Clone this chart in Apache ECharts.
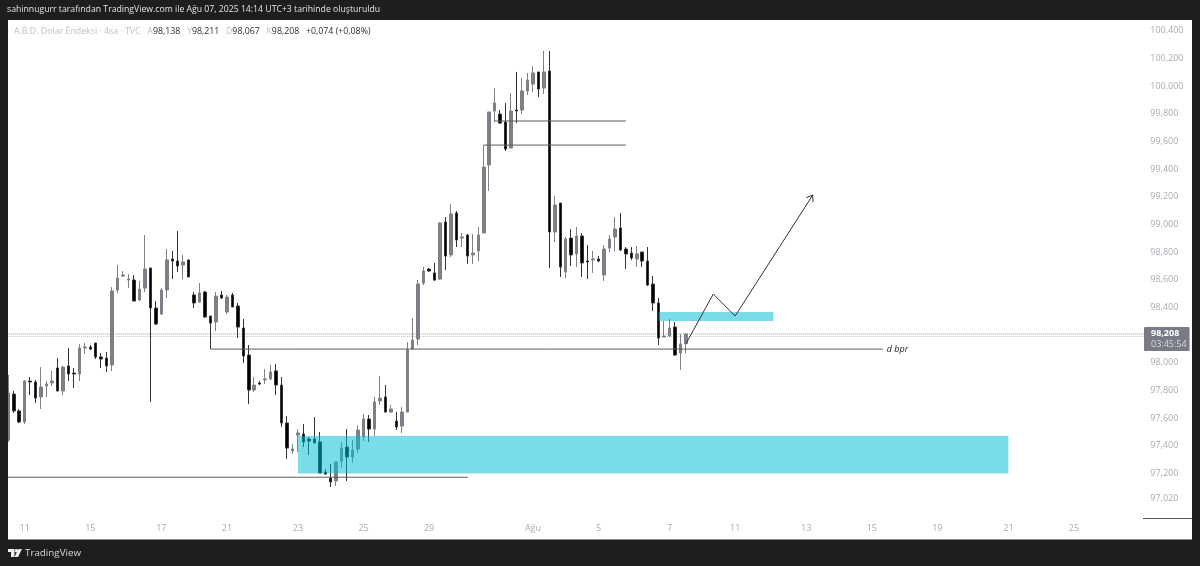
<!DOCTYPE html>
<html>
<head>
<meta charset="utf-8">
<title>DXY 4sa</title>
<script src="https://cdn.jsdelivr.net/npm/echarts@6/dist/echarts.min.js"></script>
<style>
html, body { margin: 0; padding: 0; background: #1e1e1e; }
#chart { width: 1200px; height: 566px; }
</style>
</head>
<body>
<div id="chart"></div>
<script>
/* mumlar: [acilis, kapanis, dusuk, yuksek] */
var candles = [
	[97.442, 97.782, 97.428, 97.912], [97.774, 97.652, 97.637, 97.796], [97.652, 97.572, 97.565, 97.666],
	[97.572, 97.868, 97.558, 97.876], [97.868, 97.861, 97.767, 97.897], [97.861, 97.745, 97.709, 97.876],
	[97.753, 97.825, 97.666, 97.969], [97.832, 97.847, 97.753, 97.868], [97.854, 97.868, 97.832, 97.941],
	[97.962, 97.796, 97.796, 98.034], [97.796, 97.969, 97.767, 97.977], [97.977, 97.919, 97.868, 98.107],
	[97.926, 97.919, 97.818, 97.962], [97.919, 98.107, 97.868, 98.136], [98.107, 98.114, 98.063, 98.143],
	[98.114, 98.099, 98.092, 98.128], [98.143, 98.042, 98.027, 98.143], [98.042, 98.027, 97.962, 98.071],
	[98.034, 97.977, 97.933, 98.078], [97.984, 98.519, 97.941, 98.547], [98.526, 98.612, 98.504, 98.706],
	[98.627, 98.634, 98.620, 98.663], [98.598, 98.605, 98.540, 98.641], [98.598, 98.446, 98.446, 98.634],
	[98.454, 98.533, 98.446, 98.591], [98.540, 98.677, 98.511, 98.923], [98.685, 98.396, 97.717, 98.685],
	[98.396, 98.280, 98.273, 98.446], [98.352, 98.526, 98.345, 98.540], [98.526, 98.743, 98.468, 98.822],
	[98.750, 98.735, 98.605, 98.808], [98.735, 98.699, 98.656, 98.952], [98.706, 98.728, 98.605, 98.779],
	[98.743, 98.620, 98.620, 98.743], [98.490, 98.432, 98.396, 98.511], [98.439, 98.504, 98.432, 98.576],
	[98.511, 98.331, 98.323, 98.519], [98.338, 98.287, 98.099, 98.338], [98.295, 98.482, 98.230, 98.511],
	[98.490, 98.468, 98.461, 98.519], [98.367, 98.475, 98.352, 98.490], [98.490, 98.403, 98.403, 98.504],
	[98.410, 98.258, 98.179, 98.432], [98.251, 98.049, 97.998, 98.316], [98.056, 97.803, 97.702, 98.128],
	[97.803, 97.839, 97.789, 97.897], [97.854, 97.847, 97.839, 97.868], [97.876, 97.883, 97.847, 97.955],
	[97.883, 97.933, 97.876, 97.984], [97.941, 97.839, 97.767, 97.991], [97.839, 97.565, 97.536, 97.897],
	[97.565, 97.384, 97.305, 97.615], [97.363, 97.377, 97.341, 97.413], [97.478, 97.493, 97.355, 97.521],
	[97.485, 97.428, 97.391, 97.558], [97.449, 97.435, 97.334, 97.464], [97.449, 97.420, 97.420, 97.608],
	[97.428, 97.204, 97.204, 97.500], [97.211, 97.196, 97.189, 97.232], [97.167, 97.139, 97.102, 97.269],
	[97.146, 97.283, 97.110, 97.283], [97.290, 97.384, 97.240, 97.428], [97.391, 97.319, 97.146, 97.521],
	[97.319, 97.370, 97.276, 97.442], [97.377, 97.514, 97.348, 97.550], [97.464, 97.594, 97.435, 97.630],
	[97.594, 97.521, 97.428, 97.623], [97.521, 97.717, 97.471, 97.753], [97.724, 97.745, 97.695, 97.904],
	[97.753, 97.644, 97.644, 97.839], [97.644, 97.666, 97.637, 97.695], [97.579, 97.536, 97.514, 97.644],
	[97.543, 97.644, 97.493, 97.680], [97.644, 98.092, 97.644, 98.150], [98.099, 98.165, 98.099, 98.323],
	[98.172, 98.569, 98.128, 98.598], [98.576, 98.663, 98.562, 98.692], [98.677, 98.663, 98.656, 98.685],
	[98.649, 98.598, 98.591, 98.721], [98.605, 99.010, 98.598, 99.017], [99.017, 98.771, 98.670, 99.053],
	[98.779, 99.075, 98.764, 99.147], [99.082, 98.887, 98.836, 99.097], [98.901, 98.909, 98.836, 98.938],
	[98.923, 98.771, 98.714, 98.930], [98.779, 98.793, 98.714, 98.930], [98.808, 98.923, 98.735, 98.981],
	[98.938, 99.414, 98.938, 99.573], [99.429, 99.812, 99.241, 99.812], [99.819, 99.877, 99.740, 99.985],
	[99.797, 99.732, 99.725, 99.826], [99.740, 99.544, 99.530, 99.877], [99.552, 99.819, 99.552, 99.949],
	[99.826, 99.819, 99.732, 100.101], [99.826, 99.964, 99.797, 100.057], [99.964, 100.043, 99.935, 100.094],
	[100.014, 100.094, 99.956, 100.144], [100.101, 99.978, 99.920, 100.101], [99.985, 100.101, 99.942, 100.253],
	[100.108, 98.945, 98.685, 100.253], [98.945, 99.140, 98.873, 99.205], [99.154, 98.692, 98.620, 99.154],
	[98.656, 98.894, 98.612, 98.909], [98.901, 98.779, 98.699, 98.966], [98.786, 98.916, 98.692, 98.981],
	[98.916, 98.721, 98.620, 98.938], [98.735, 98.728, 98.605, 98.851], [98.743, 98.750, 98.649, 98.808],
	[98.750, 98.735, 98.728, 98.771], [98.634, 98.822, 98.591, 98.851], [98.829, 98.894, 98.800, 98.923],
	[98.909, 98.966, 98.808, 99.053], [98.974, 98.815, 98.808, 99.082], [98.822, 98.786, 98.677, 98.836],
	[98.793, 98.757, 98.743, 98.836], [98.750, 98.786, 98.692, 98.844], [98.800, 98.735, 98.692, 98.800],
	[98.735, 98.562, 98.555, 98.836], [98.569, 98.432, 98.374, 98.627], [98.432, 98.179, 98.128, 98.468],
	[98.186, 98.193, 98.186, 98.302], [98.193, 98.251, 98.186, 98.316], [98.258, 98.056, 98.049, 98.295],
	[98.071, 98.136, 97.948, 98.208], [98.138, 98.208, 98.067, 98.211]
];

var barCount = 208;
var tickBars = [3, 15, 28, 40, 53, 65, 77, 96, 108, 121, 133, 146, 158, 170, 183, 195];
var tickLabels = ['11', '15', '17', '21', '23', '25', '29', 'Ağu', '5', '7', '11', '13', '15', '19', '21', '25'];
var priceTicks = [100.4, 100.2, 100, 99.8, 99.6, 99.4, 99.2, 99, 98.8, 98.6, 98.4, 98, 97.8, 97.6, 97.4, 97.2, 97.02];

/* cizimler: mum numarasi ve fiyat */
var bigZoneBars = [53, 183], bigZonePrices = [97.471, 97.200];
var smallZoneBars = [119, 140], smallZonePrices = [98.367, 98.302];
var bprLine = [[37, 98.099], [160, 98.099]];
var upperLine = [[89, 99.747], [113, 99.747]];
var lowerLine = [[87, 99.573], [113, 99.573]];
var lowLine = [[-1, 97.173], [84.1, 97.173]];
var arrowBars = [124, 129, 133, 147.2];
var arrowPrices = [98.138, 98.497, 98.338, 99.212];
var lastPrice = 98.208, prevLevel = 98.19;
var countdown = '03:45:54';

var categories = [];
for (var i = 0; i < barCount; i++) categories.push('');
tickBars.forEach(function(b, n) { categories[b] = tickLabels[n]; });

function fmt(v) { return v.toFixed(3).replace('.', ','); }

var font = '"Open Sans", sans-serif';
var frame = '#1e1e1e';

function trend(points) {
	return {
		type: 'line', xAxisIndex: 1, data: points, symbol: 'none', silent: true, z: 3,
		lineStyle: { color: '#5c5c5c', width: 1 }
	};
}
function dotted(v, color) {
	return {
		type: 'line', xAxisIndex: 1, data: [[-1, v], [208, v]], symbol: 'none', silent: true, z: 1,
		lineStyle: { color: color, width: 1, type: [1, 1] }
	};
}
function zone(bars, prices) {
	return {
		type: 'custom', xAxisIndex: 1, z: 5, silent: true,
		data: [[bars[0], bars[1], prices[0], prices[1]]],
		encode: { x: [0, 1], y: [2, 3] },
		renderItem: function(params, api) {
			var a = api.coord([api.value(0), api.value(2)]);
			var b = api.coord([api.value(1), api.value(3)]);
			return {
				type: 'rect',
				shape: { x: a[0], y: a[1], width: b[0] - a[0], height: b[1] - a[1] },
				style: { fill: 'rgba(0,188,212,0.52)' }
			};
		}
	};
}

var bpr = trend(bprLine);
bpr.endLabel = { show: true, formatter: 'd bpr', color: '#222', fontStyle: 'italic', fontSize: 9, fontFamily: font, distance: 4 };

var option = {
	backgroundColor: '#fff',
	animation: false,
	grid: { left: 5.57, right: 57.7, top: 20, bottom: 48 },
	xAxis: [{
		type: 'category',
		data: categories,
		axisLine: { show: false },
		axisTick: { show: false },
		splitLine: { show: false },
		axisLabel: { interval: 0, color: '#a9acb3', fontSize: 9, fontFamily: font, margin: 6, hideOverlap: false }
	}, {
		type: 'value', show: false, min: -0.5, max: 207.5, splitLine: { show: false }
	}],
	yAxis: {
		type: 'value',
		position: 'right',
		scale: true,
		min: 96.8785,
		max: 100.4767,
		axisLine: { show: false },
		axisTick: { show: false },
		splitLine: { show: false },
		axisLabel: {
			customValues: priceTicks,
			formatter: fmt,
			color: '#a9acb3',
			fontSize: 9,
			fontFamily: font,
			margin: 8
		}
	},
	series: [
		dotted(lastPrice, '#9a9da5'),
		dotted(prevLevel, '#c4c6cc'),
		{
			type: 'candlestick',
			data: candles,
			barWidth: 3,
			z: 2,
			itemStyle: {
				color: '#7f7f88', borderColor: '#7f7f88',
				color0: '#000', borderColor0: '#333', borderWidth: 1
			}
		},
		bpr,
		trend(upperLine),
		trend(lowerLine),
		trend(lowLine),
		zone(bigZoneBars, bigZonePrices),
		zone(smallZoneBars, smallZonePrices),
		{
			type: 'custom', xAxisIndex: 1, z: 6, silent: true,
			data: arrowBars.map(function(b, n) { return [b, arrowPrices[n]]; }),
			encode: { x: 0, y: 1 },
			renderItem: function(params, api) {
				if (params.dataIndex !== 0) return;
				var pts = arrowBars.map(function(b, n) { return api.coord([b, arrowPrices[n]]); });
				var tip = pts[pts.length - 1], from = pts[pts.length - 2];
				var ang = Math.atan2(from[1] - tip[1], from[0] - tip[0]);
				var barb = function(d) { return [tip[0] + 7 * Math.cos(ang + d), tip[1] + 7 * Math.sin(ang + d)]; };
				var line = { fill: null, stroke: '#333', lineWidth: 1 };
				return {
					type: 'group',
					children: [
						{ type: 'polyline', shape: { points: pts }, style: line },
						{ type: 'polyline', shape: { points: [barb(0.6), tip, barb(-0.6)] }, style: line }
					]
				};
			}
		}
	],
	graphic: [
		{ type: 'rect', z: 100, shape: { x: 0, y: 0, width: 1200, height: 20 }, style: { fill: frame } },
		{ type: 'rect', z: 100, shape: { x: 0, y: 0, width: 8, height: 566 }, style: { fill: frame } },
		{ type: 'rect', z: 100, shape: { x: 1192, y: 0, width: 8, height: 566 }, style: { fill: frame } },
		{ type: 'rect', z: 100, shape: { x: 0, y: 540, width: 1200, height: 26 }, style: { fill: frame } },
		{ type: 'rect', z: 100, shape: { x: 8, y: 539, width: 1184, height: 1 }, style: { fill: '#8a8a8a' } },
		{ type: 'rect', z: 100, shape: { x: 1143, y: 518, width: 49, height: 1 }, style: { fill: '#555' } },
		{
			type: 'text', z: 101, x: 7, y: 10,
			style: {
				text: 'sahinnugurr tarafından TradingView.com ile Ağu 07, 2025 14:14 UTC+3 tarihinde oluşturuldu',
				fill: '#e4e4e4', font: '8.7px ' + font, textVerticalAlign: 'middle'
			}
		},
		{
			type: 'text', z: 101, x: 14, y: 31,
			style: {
				text: '{n|A.B.D. Dolar Endeksi · 4sa · TVC}  {n|A}{v|98,138}  {n|Y}{v|98,211}  {n|D}{v|98,067}  {n|K}{v|98,208}  {v|+0,074 (+0,08%)}',
				textVerticalAlign: 'middle',
				rich: {
					n: { fill: '#bfc1c7', font: '8.8px ' + font },
					v: { fill: '#2a2e39', font: '8.8px ' + font }
				}
			}
		},
		{ type: 'rect', z: 101, shape: { x: 1144, y: 327, width: 45.5, height: 24, r: 1 }, style: { fill: '#787b86' } },
		{
			type: 'text', z: 102, x: 1151, y: 333,
			style: { text: fmt(lastPrice), fill: '#fff', font: 'bold 9px ' + font, textVerticalAlign: 'middle' }
		},
		{
			type: 'text', z: 102, x: 1151, y: 344,
			style: { text: countdown, fill: '#d9dade', font: '9px ' + font, textVerticalAlign: 'middle' }
		},
		{ type: 'polygon', z: 101, shape: { points: [[8, 549], [14.5, 549], [14.5, 557], [11, 557], [11, 552], [8, 552]] }, style: { fill: '#eee' } },
		{ type: 'circle', z: 101, shape: { cx: 16.5, cy: 550.8, r: 1.8 }, style: { fill: '#eee' } },
		{ type: 'polygon', z: 101, shape: { points: [[18.5, 549], [22, 549], [18, 557], [14.5, 557]] }, style: { fill: '#eee' } },
		{
			type: 'text', z: 101, x: 25, y: 553,
			style: { text: 'TradingView', fill: '#d8d8d8', font: '9.8px ' + font, textVerticalAlign: 'middle' }
		}
	]
};

var chart = echarts.init(document.getElementById('chart'), null, { renderer: 'canvas' });
chart.setOption(option);
</script>
</body>
</html>
